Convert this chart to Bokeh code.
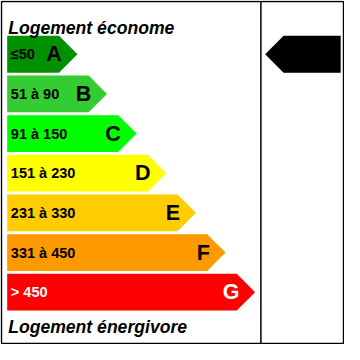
from bokeh.plotting import figure
from bokeh.models import Range1d, ColumnDataSource
from bokeh.embed import file_html
from bokeh.resources import INLINE
from bokeh.core.properties import value

# ---- data ----
classes = ["A", "B", "C", "D", "E", "F", "G"]
ranges = ["≤50", "51 à 90", "91 à 150", "151 à 230", "231 à 330", "331 à 450", "> 450"]
fill_colors = ["#009000", "#33cc33", "#00ff00", "#ffff00", "#ffcc00", "#ff9900", "#ff0000"]
text_colors = ["black", "black", "black", "black", "black", "black", "white"]
current_class = "A"
title_top = "Logement économe"
title_bottom = "Logement énergivore"

# ---- layout (reference units: 360 x 360) ----
W = 344
S = W / 360.0
ROW0, PITCH, BAR_H = 37.0, 41.5, 38.5
LEFT, TIP0, TIP_STEP = 7.0, 80.5, 31.0
DIVIDER = 272.5
FONT = "Liberation Sans"

p = figure(width=W, height=W, x_range=Range1d(0, 360), y_range=Range1d(360, 0),
           output_backend="svg", toolbar_location=None, min_border=0,
           x_axis_location=None, y_axis_location=None)
p.grid.visible = False
p.outline_line_color = None
p.background_fill_color = "white"
p.border_fill_color = "white"

xs, ys, lx, ly, tx = [], [], [], [], []
for i, c in enumerate(classes):
    top = ROW0 + PITCH * i
    bot = top + BAR_H
    mid = (top + bot) / 2
    tip = TIP0 + TIP_STEP * i
    body = tip - BAR_H / 2
    xs.append([LEFT, body, tip, body, LEFT])
    ys.append([top, top, mid, bot, bot])
    ly.append(mid)
    lx.append(LEFT + 3.8)
    tx.append(tip - 16.5)

src = ColumnDataSource(dict(xs=xs, ys=ys, color=fill_colors, rng=ranges, cls=classes,
                            tcol=text_colors, lx=lx, ly=ly, tx=tx))
p.patches("xs", "ys", fill_color="color", line_color=None, source=src)
p.text(x="lx", y="ly", text="rng", text_color="tcol", source=src,
       text_font=value(FONT), text_font_style="bold", text_font_size=f"{15.2*S:.1f}px",
       text_baseline="middle", text_align="left")
p.text(x="tx", y="ly", text="cls", text_color="tcol", source=src,
       text_font=value(FONT), text_font_style="bold", text_font_size=f"{22.5*S:.1f}px",
       text_baseline="middle", text_align="right")

# indicator arrow on the right, aligned with the current class row
k = classes.index(current_class)
top = ROW0 + PITCH * k
bot = top + BAR_H
mid = (top + bot) / 2
tip_x = DIVIDER + 4.5
end_x = 356.0
p.patch([tip_x, tip_x + BAR_H / 2, end_x, end_x, tip_x + BAR_H / 2],
        [mid, top, top, bot, bot], fill_color="black", line_color=None)

# titles
p.text(x=[8], y=[29], text=[title_top], text_font=value(FONT), text_font_style="bold italic",
       text_font_size=f"{18.4*S:.1f}px", text_baseline="alphabetic", text_color="black")
p.text(x=[8], y=[342], text=[title_bottom], text_font=value(FONT), text_font_style="bold italic",
       text_font_size=f"{18.4*S:.1f}px", text_baseline="alphabetic", text_color="black")

# frame and divider
p.quad(left=[1], right=[359], top=[1], bottom=[359], fill_color=None,
       line_color="black", line_width=1.5)
p.segment(x0=[DIVIDER], y0=[1], x1=[DIVIDER], y1=[359], line_color="black", line_width=1.5)

open("out.html", "w").write(file_html(p, INLINE))
